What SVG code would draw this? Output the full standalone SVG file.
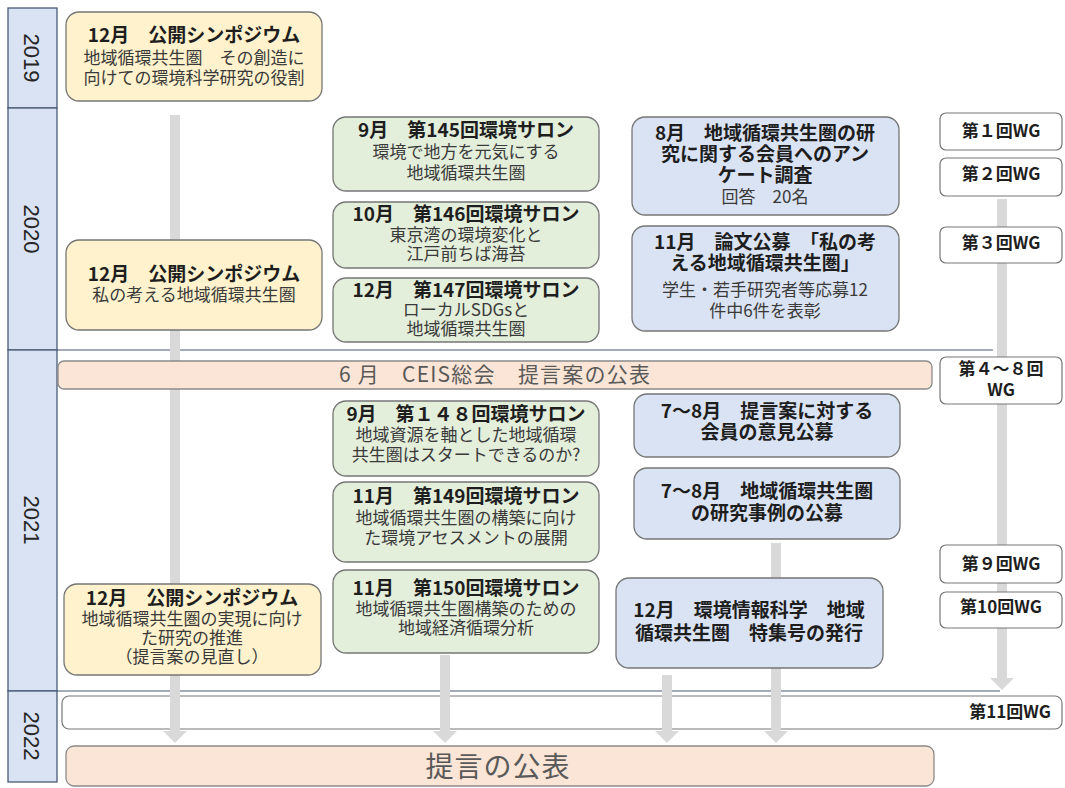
<svg xmlns="http://www.w3.org/2000/svg" width="1065" height="788" viewBox="0 0 1065 788">
<defs>
<style>
text{font-family:"Noto Sans CJK JP","Noto Sans",sans-serif;text-anchor:middle}
.h{font-size:19px;font-weight:bold;fill:#1e1e1e}
.n{font-size:17px;font-weight:normal;fill:#3a3a3a}
.wg{font-size:17px;font-weight:bold;fill:#1e1e1e}
.yr{font-family:"Liberation Sans",Arial,sans-serif;font-size:22px;fill:#262626}
.yel{fill:#fff2cc;stroke:#767676;stroke-width:1.3}
.grn{fill:#e3eedb;stroke:#767676;stroke-width:1.3}
.blu{fill:#dae3f3;stroke:#767676;stroke-width:1.3}
.pnk{fill:#fbe5d6;stroke:#8a8a8a;stroke-width:1.3}
.wht{fill:#ffffff;stroke:#767676;stroke-width:1.2}
.ycell{fill:#dae3f3;stroke:#4a5b75;stroke-width:1.3}
.sep{stroke:#4a5b75;stroke-width:1.2}
.bar{stroke:#d9d9d9;stroke-width:10;fill:none;marker-end:url(#ah)}
</style>
<marker id="ah" markerUnits="userSpaceOnUse" markerWidth="12" markerHeight="24" viewBox="0 -12 12 24" refX="0" refY="0" orient="auto">
<path d="M0,-12 L12,0 L0,12 z" fill="#d9d9d9"/>
</marker>
</defs>
<rect width="1065" height="788" fill="#ffffff"/>

<g id="years">
<rect class="ycell" x="8" y="8" width="49" height="100"/>
<rect class="ycell" x="8" y="108" width="49" height="242"/>
<rect class="ycell" x="8" y="350" width="49" height="341"/>
<rect class="ycell" x="8" y="691" width="49" height="91"/>
<text class="yr" transform="translate(24,58) rotate(90)">2019</text>
<text class="yr" transform="translate(24,229) rotate(90)">2020</text>
<text class="yr" transform="translate(24,520) rotate(90)">2021</text>
<text class="yr" transform="translate(24,736) rotate(90)">2022</text>
<line class="sep" x1="57" y1="350" x2="993" y2="350"/>
<line class="sep" x1="57" y1="691" x2="1000" y2="691"/>
</g>

<g id="band2022">
<rect class="wht" x="62" y="696" width="1000" height="33" rx="7"/>
<text class="wg" x="1051" y="718" style="text-anchor:end">第11回WG</text>
</g>

<g id="connectors">
<line class="bar" x1="175" y1="115" x2="175" y2="731"/>
<line class="bar" x1="445" y1="655" x2="445" y2="731"/>
<line class="bar" x1="667" y1="675" x2="667" y2="731"/>
<line class="bar" x1="776" y1="543" x2="776" y2="731"/>
<line class="bar" x1="1002" y1="199" x2="1002" y2="678"/>
</g>

<g id="sympo2019">
<rect class="yel" x="66" y="12" width="256" height="89" rx="13"/>
<text x="194" y="42"><tspan class="h">12月　公開シンポジウム</tspan><tspan class="n" x="194" dy="22">地域循環共生圏　その創造に</tspan><tspan class="n" x="194" dy="20">向けての環境科学研究の役割</tspan></text>
</g>

<g id="sympo2020">
<rect class="yel" x="66" y="240" width="256" height="90" rx="13"/>
<text x="194" y="281"><tspan class="h">12月　公開シンポジウム</tspan><tspan class="n" x="194" dy="20">私の考える地域循環共生圏</tspan></text>
</g>

<g id="sympo2021">
<rect class="yel" x="64" y="584" width="257" height="91" rx="13"/>
<text x="192" y="605"><tspan class="h">12月　公開シンポジウム</tspan><tspan class="n" x="192" dy="20">地域循環共生圏の実現に向け</tspan><tspan class="n" x="192" dy="19">た研究の推進</tspan><tspan class="n" x="192" dy="19">（提言案の見直し）</tspan></text>
</g>

<g id="salon145">
<rect class="grn" x="333" y="117" width="266" height="74" rx="13"/>
<text x="466" y="137"><tspan class="h">9月　第145回環境サロン</tspan><tspan class="n" x="466" dy="21">環境で地方を元気にする</tspan><tspan class="n" x="466" dy="21">地域循環共生圏</tspan></text>
</g>

<g id="salon146">
<rect class="grn" x="333" y="202" width="266" height="66" rx="13"/>
<text x="466" y="221"><tspan class="h">10月　第146回環境サロン</tspan><tspan class="n" x="466" dy="20">東京湾の環境変化と</tspan><tspan class="n" x="466" dy="19">江戸前ちば海苔</tspan></text>
</g>

<g id="salon147">
<rect class="grn" x="333" y="278" width="266" height="64" rx="13"/>
<text x="466" y="297"><tspan class="h">12月　第147回環境サロン</tspan><tspan class="n" x="466" dy="19">ローカルSDGsと</tspan><tspan class="n" x="466" dy="19">地域循環共生圏</tspan></text>
</g>

<g id="salon148">
<rect class="grn" x="333" y="401" width="266" height="75" rx="13"/>
<text x="466" y="421"><tspan class="h">9月　第１４８回環境サロン</tspan><tspan class="n" x="466" dy="20">地域資源を軸とした地域循環</tspan><tspan class="n" x="466" dy="20">共生圏はスタートできるのか?</tspan></text>
</g>

<g id="salon149">
<rect class="grn" x="333" y="482" width="266" height="80" rx="13"/>
<text x="466" y="503"><tspan class="h">11月　第149回環境サロン</tspan><tspan class="n" x="466" dy="21">地域循環共生圏の構築に向け</tspan><tspan class="n" x="466" dy="20">た環境アセスメントの展開</tspan></text>
</g>

<g id="salon150">
<rect class="grn" x="333" y="570" width="266" height="83" rx="13"/>
<text x="466" y="595"><tspan class="h">11月　第150回環境サロン</tspan><tspan class="n" x="466" dy="20">地域循環共生圏構築のための</tspan><tspan class="n" x="466" dy="19">地域経済循環分析</tspan></text>
</g>

<g id="survey">
<rect class="blu" x="632" y="117" width="267" height="98" rx="13"/>
<text x="765" y="140"><tspan class="h">8月　地域循環共生圏の研</tspan><tspan class="h" x="765" dy="21">究に関する会員へのアン</tspan><tspan class="h" x="765" dy="21">ケート調査</tspan><tspan class="n" x="765" dy="21">回答　20名</tspan></text>
</g>

<g id="paper">
<rect class="blu" x="632" y="226" width="267" height="105" rx="13"/>
<text x="765" y="249"><tspan class="h">11月　論文公募　「私の考</tspan><tspan class="h" x="765" dy="21">える地域循環共生圏」</tspan><tspan class="n" x="765" dy="26">学生・若手研究者等応募12</tspan><tspan class="n" x="765" dy="21">件中6件を表彰</tspan></text>
</g>

<g id="opinion">
<rect class="blu" x="634" y="394" width="266" height="63" rx="13"/>
<text x="767" y="418"><tspan class="h">7〜8月　提言案に対する</tspan><tspan class="h" x="767" dy="21">会員の意見公募</tspan></text>
</g>

<g id="cases">
<rect class="blu" x="634" y="468" width="266" height="71" rx="13"/>
<text x="767" y="498"><tspan class="h">7〜8月　地域循環共生圏</tspan><tspan class="h" x="767" dy="22">の研究事例の公募</tspan></text>
</g>

<g id="special">
<rect class="blu" x="616" y="578" width="267" height="90" rx="13"/>
<text x="749" y="617"><tspan class="h">12月　環境情報科学　地域</tspan><tspan class="h" x="749" dy="23">循環共生圏　特集号の発行</tspan></text>
</g>

<g id="ceis">
<rect class="pnk" x="58" y="361" width="874" height="28" rx="6"/>
<text x="495" y="382" style="font-size:21px;fill:#595959;letter-spacing:1.2px">6 月　CEIS総会　提言案の公表</text>
</g>

<g id="wg1"><rect class="wht" x="940" y="113" width="122" height="37" rx="6"/><text class="wg" x="1001" y="137">第１回WG</text></g>
<g id="wg2"><rect class="wht" x="940" y="158" width="122" height="38" rx="6"/><text class="wg" x="1001" y="180">第２回WG</text></g>
<g id="wg3"><rect class="wht" x="940" y="227" width="122" height="36" rx="6"/><text class="wg" x="1001" y="249">第３回WG</text></g>
<g id="wg4_8"><rect class="wht" x="940" y="357" width="122" height="47" rx="6"/><text class="wg" x="1001" y="375">第４〜８回<tspan x="1001" dy="21">WG</tspan></text></g>
<g id="wg9"><rect class="wht" x="940" y="545" width="122" height="38" rx="6"/><text class="wg" x="1001" y="570">第９回WG</text></g>
<g id="wg10"><rect class="wht" x="940" y="592" width="122" height="36" rx="6"/><text class="wg" x="1001" y="613">第10回WG</text></g>

<g id="proposal">
<rect class="pnk" x="66" y="746" width="868" height="40" rx="8"/>
<text x="498" y="777" style="font-size:28px;fill:#595959;letter-spacing:1px">提言の公表</text>
</g>
</svg>
